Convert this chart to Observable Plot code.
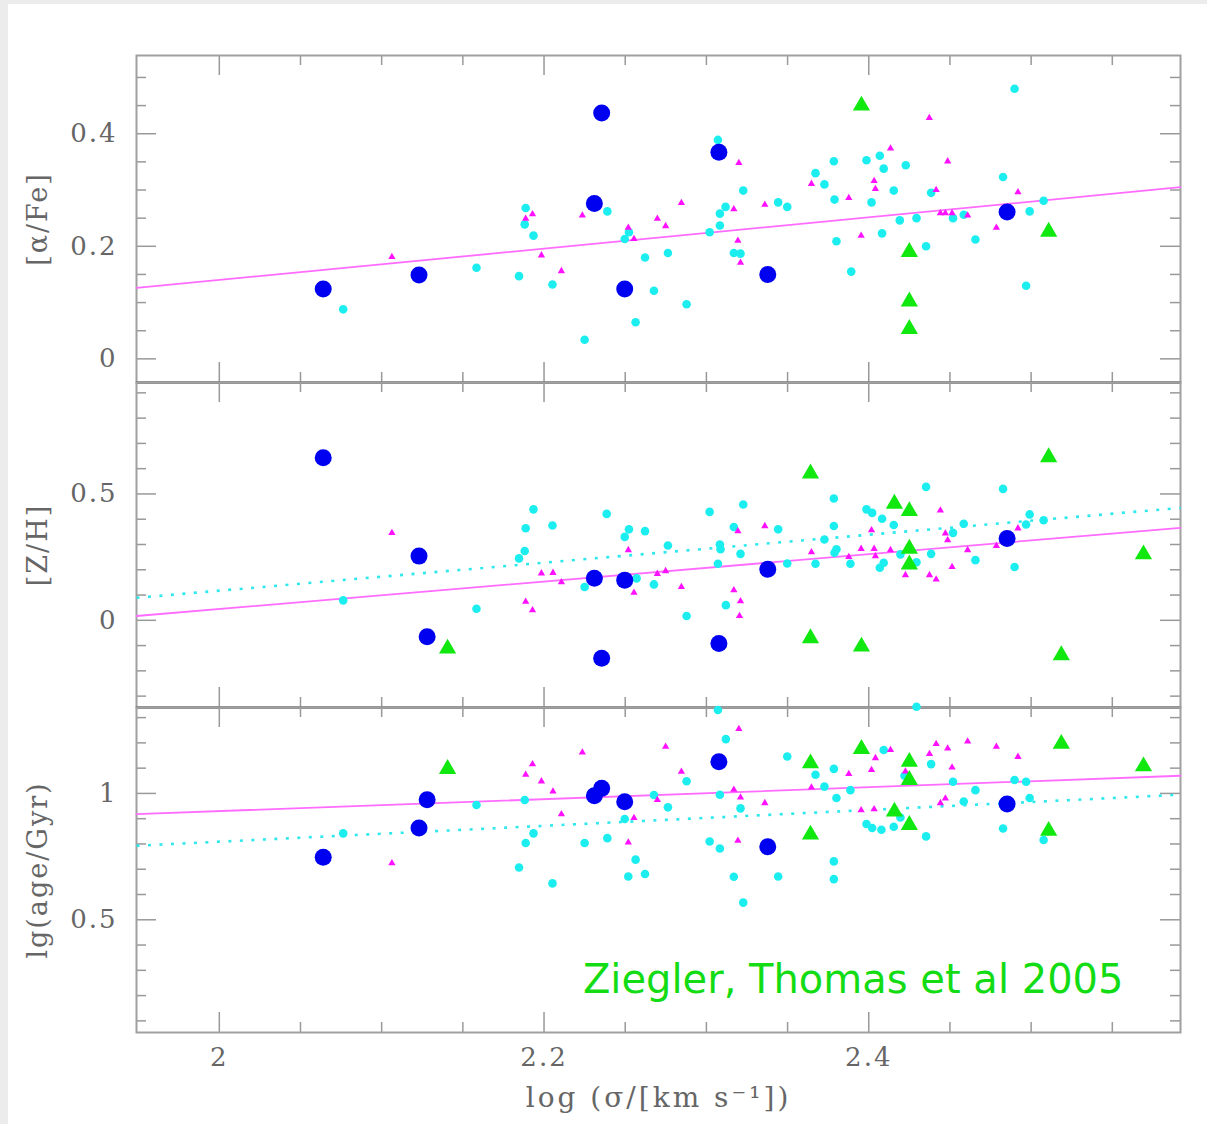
<!DOCTYPE html>
<html>
<head>
<meta charset="utf-8">
<script src="https://cdn.jsdelivr.net/npm/d3@7"></script>
<script src="https://cdn.jsdelivr.net/npm/@observablehq/plot@0.6"></script>
<style>
  html, body { margin: 0; padding: 0; background: #ececec; }
  #page { position: absolute; left: 8px; top: 4px; right: 0; height: 1120px; background: #fff; }
  #chart { position: absolute; left: 0; top: 0; width: 1207px; height: 1124px; }
  #chart svg { position: absolute; left: 0; overflow: visible; }
</style>
</head>
<body>
<div id="page"></div>
<div id="chart"></div>
<script>
// ---- shared x axis: log velocity dispersion ----
const xDomain = [1.949, 2.592];
const xTicks = [2, 2.2, 2.4];
const xMinor = [2.05, 2.1, 2.15, 2.25, 2.3, 2.35, 2.45, 2.5, 2.55];
const xTitle = "log (σ/[km s⁻¹])";
const credit = "Ziegler, Thomas et al 2005";

// ---- [alpha/Fe] panel ----
const alphaDomain = [-0.042, 0.539];
const alphaTicks = [0, 0.2, 0.4];
const alphaMinor = [0.05, 0.1, 0.15, 0.25, 0.3, 0.35, 0.45, 0.5];
const alphaCyan = [
  [2.1887,0.268],[2.1881,0.239],[2.1935,0.219],[2.1584,0.162],[2.1846,0.147],[2.0763,0.088],[2.2052,0.132],
  [2.2390,0.262],[2.2497,0.213],[2.2523,0.225],[2.2622,0.180],[2.2763,0.188],[2.2677,0.121],[2.2878,0.097],
  [2.2564,0.065],[2.2250,0.034],[2.3071,0.389],[2.3020,0.225],[2.3083,0.237],[2.3083,0.258],[2.3118,0.270],
  [2.3227,0.299],[2.3169,0.188],[2.3210,0.187],[2.3442,0.278],[2.3498,0.270],[2.3672,0.330],[2.3785,0.351],
  [2.3727,0.310],[2.3789,0.283],[2.3801,0.209],[2.3892,0.155],[2.3986,0.353],[2.4068,0.361],[2.4092,0.338],
  [2.4228,0.344],[2.4017,0.278],[2.4154,0.299],[2.4082,0.223],[2.4191,0.246],[2.4294,0.250],[2.4353,0.200],
  [2.4384,0.295],[2.4519,0.250],[2.4585,0.256],[2.4657,0.212],[2.4827,0.323],[2.4898,0.480],[2.4991,0.262],
  [2.5077,0.281],[2.4969,0.130]
];
const alphaMagenta = [
  [2.1063,0.181],[2.1887,0.249],[2.1929,0.257],[2.1984,0.184],[2.2107,0.156],[2.2236,0.255],[2.2519,0.233],
  [2.2554,0.213],[2.2698,0.249],[2.2749,0.236],[2.2846,0.277],[2.3200,0.348],[2.3169,0.266],[2.3194,0.210],
  [2.3210,0.171],[2.3360,0.274],[2.3647,0.311],[2.3877,0.286],[2.3953,0.219],[2.4033,0.316],[2.4041,0.302],
  [2.4134,0.374],[2.4373,0.428],[2.4415,0.300],[2.4486,0.351],[2.4441,0.259],[2.4472,0.259],[2.4513,0.259],
  [2.4609,0.255],[2.4786,0.233],[2.4919,0.296]
];
const alphaBlue = [
  [2.064,0.124],[2.123,0.149],[2.231,0.276],[2.2355,0.437],[2.2497,0.124],[2.3077,0.367],[2.3378,0.150],[2.4852,0.261]
];
const alphaGreen = [[2.3955,0.450],[2.425,0.190],[2.425,0.102],[2.425,0.053],[2.5108,0.226]];
const alphaFitMagenta = [[1.949,0.126],[2.592,0.305]];

// ---- [Z/H] panel ----
const zhDomain = [-0.345, 0.941];
const zhTicks = [0, 0.5];
const zhMinor = [-0.3, -0.2, -0.1, 0.1, 0.2, 0.3, 0.4, 0.6, 0.7, 0.8, 0.9];
const zhCyan = [
  [2.0763,0.079],[2.1584,0.046],[2.1846,0.245],[2.1881,0.274],[2.1887,0.364],[2.1935,0.439],[2.2052,0.375],
  [2.2250,0.132],[2.2386,0.421],[2.2497,0.330],[2.2523,0.360],[2.2570,0.166],[2.2622,0.353],[2.2677,0.142],
  [2.2763,0.296],[2.2878,0.017],[2.3020,0.429],[2.3083,0.300],[2.3087,0.281],[2.3071,0.224],[2.3169,0.369],
  [2.3227,0.458],[2.3210,0.263],[2.3120,0.060],[2.3442,0.360],[2.3498,0.225],[2.3672,0.224],[2.3785,0.482],
  [2.3785,0.373],[2.3727,0.320],[2.3801,0.281],[2.3789,0.267],[2.3887,0.224],[2.3986,0.439],[2.4021,0.425],
  [2.4082,0.402],[2.4154,0.377],[2.4068,0.208],[2.4092,0.228],[2.4195,0.261],[2.4294,0.230],[2.4353,0.528],
  [2.4384,0.263],[2.4519,0.346],[2.4585,0.382],[2.4657,0.238],[2.4827,0.520],[2.4898,0.211],[2.4969,0.379],
  [2.4991,0.419],[2.5077,0.396]
];
const zhMagenta = [
  [2.1063,0.346],[2.1887,0.074],[2.1929,0.040],[2.1984,0.186],[2.2055,0.188],[2.2107,0.151],[2.2519,0.278],
  [2.2554,0.109],[2.2698,0.184],[2.2749,0.195],[2.2846,0.132],[2.3169,0.119],[2.3210,0.076],[2.3204,0.017],
  [2.3194,0.353],[2.3360,0.373],[2.3647,0.270],[2.3877,0.251],[2.3953,0.283],[2.4017,0.357],[2.4033,0.283],
  [2.4041,0.254],[2.4134,0.278],[2.4226,0.179],[2.4374,0.179],[2.4415,0.162],[2.4441,0.435],[2.4472,0.344],
  [2.4486,0.317],[2.4513,0.211],[2.4609,0.278],[2.4786,0.294],[2.4919,0.364]
];
const zhBlue = [
  [2.064,0.643],[2.123,0.254],[2.128,-0.065],[2.231,0.166],[2.2497,0.159],[2.2355,-0.150],[2.3077,-0.092],
  [2.3378,0.202],[2.4852,0.324]
];
const zhGreen = [
  [2.1406,-0.112],[2.3641,0.581],[2.3641,-0.071],[2.3955,-0.104],[2.4158,0.461],[2.425,0.432],[2.425,0.283],
  [2.425,0.221],[2.5108,0.645],[2.5186,-0.138],[2.5692,0.261]
];
const zhFitMagenta = [[1.949,0.017],[2.592,0.366]];
const zhFitCyan = [[1.949,0.089],[2.592,0.445]];

// ---- lg(age) panel ----
const ageDomain = [0.054, 1.340];
const ageTicks = [0.5, 1];
const ageMinor = [0.1, 0.2, 0.3, 0.4, 0.6, 0.7, 0.8, 0.9, 1.1, 1.2, 1.3];
const ageCyan = [
  [2.0763,0.842],[2.1584,0.954],[2.1881,0.974],[2.1887,0.804],[2.1846,0.707],[2.1935,0.842],[2.2052,0.644],
  [2.2250,0.804],[2.2390,0.823],[2.2497,0.899],[2.2564,0.738],[2.2519,0.671],[2.2622,0.681],[2.2677,0.994],
  [2.2763,0.945],[2.2878,1.048],[2.3020,0.810],[2.3083,0.782],[2.3083,0.995],[2.3120,1.215],[2.3071,1.330],
  [2.3210,0.941],[2.3169,0.670],[2.3227,0.568],[2.3442,0.671],[2.3498,1.146],[2.3672,1.074],[2.3727,1.027],
  [2.3785,1.097],[2.3801,0.982],[2.3785,0.731],[2.3785,0.661],[2.3887,1.013],[2.3986,0.879],[2.4021,0.863],
  [2.4078,0.856],[2.4154,0.868],[2.4195,0.905],[2.4092,1.172],[2.4384,1.116],[2.4220,1.070],[2.4353,0.830],
  [2.4519,1.046],[2.4585,0.968],[2.4657,1.013],[2.4827,0.861],[2.4898,1.053],[2.4969,1.046],[2.4991,0.982],
  [2.5077,0.816],[2.4294,1.343]
];
const ageMagenta = [
  [2.1063,0.724],[2.1887,1.074],[2.1929,1.116],[2.1984,1.048],[2.2055,1.008],[2.2107,0.918],[2.2236,1.162],
  [2.2519,0.806],[2.2554,0.903],[2.2698,0.974],[2.2749,1.185],[2.2846,1.086],[2.3169,1.015],[2.3200,1.255],
  [2.3210,0.984],[2.3194,0.813],[2.3360,0.962],[2.3647,1.024],[2.3877,1.077],[2.3953,0.934],[2.4017,1.093],
  [2.4033,0.938],[2.4041,1.140],[2.4134,1.172],[2.4226,1.087],[2.4374,1.156],[2.4415,1.196],[2.4441,0.962],
  [2.4472,0.980],[2.4486,1.178],[2.4513,1.103],[2.4609,1.206],[2.4786,1.185],[2.4919,1.145]
];
const ageBlue = [
  [2.064,0.747],[2.128,0.975],[2.123,0.863],[2.231,0.991],[2.2355,1.020],[2.2497,0.967],[2.3077,1.125],
  [2.3378,0.789],[2.4852,0.958]
];
const ageGreen = [
  [2.1406,1.097],[2.3641,1.119],[2.3641,0.837],[2.3955,1.176],[2.425,1.125],[2.425,1.053],[2.4158,0.928],
  [2.425,0.875],[2.5108,0.852],[2.5186,1.196],[2.5692,1.107]
];
const ageFitMagenta = [[1.949,0.918],[2.592,1.070]];
const ageFitCyan = [[1.949,0.793],[2.592,0.995]];

// ---- drawing ----
const FRAME_W = 1044;
const MARGIN_L = 136, MARGIN_R = 27;
const TICK_MAJOR = 20, TICK_MINOR = 10;
const tickColor = "#999";
const fmt = d => String(d);
const px = d => d[0], py = d => d[1];

function panel({top, frameH, marginTop = 0, marginBottom = 0, yDomain, yTicks, yMinor, title,
                cyan, magenta, blue, green, fitMagenta, fitCyan, darkBottom = false, bottomAxis = false, extra = []}) {
  const marks = [
    // inward ticks on all four sides
    Plot.ruleX(xTicks, {insetTop: frameH - TICK_MAJOR, stroke: tickColor, strokeWidth: 1.5}),
    Plot.ruleX(xTicks, {insetBottom: frameH - TICK_MAJOR, stroke: tickColor, strokeWidth: 1.5}),
    Plot.ruleX(xMinor, {insetTop: frameH - TICK_MINOR, stroke: tickColor, strokeWidth: 1.5}),
    Plot.ruleX(xMinor, {insetBottom: frameH - TICK_MINOR, stroke: tickColor, strokeWidth: 1.5}),
    Plot.ruleY(yTicks, {insetRight: FRAME_W - TICK_MAJOR, stroke: tickColor, strokeWidth: 1.5}),
    Plot.ruleY(yTicks, {insetLeft: FRAME_W - TICK_MAJOR, stroke: tickColor, strokeWidth: 1.5}),
    Plot.ruleY(yMinor, {insetRight: FRAME_W - TICK_MINOR, stroke: tickColor, strokeWidth: 1.5}),
    Plot.ruleY(yMinor, {insetLeft: FRAME_W - TICK_MINOR, stroke: tickColor, strokeWidth: 1.5}),
    Plot.frame({stroke: "#a0a0a0", strokeWidth: 2}),
    darkBottom ? Plot.ruleY([yDomain[0]], {stroke: "#4a4a4a", strokeWidth: 2}) : null,
    Plot.axisY(yTicks, {anchor: "left", tickSize: 0, tickPadding: 19, tickFormat: fmt, label: null}),
    Plot.text([title], {text: d => d, frameAnchor: "left", rotate: -90, dx: -98,
                        textAnchor: "middle", lineAnchor: "middle", fontSize: 27}),
    // regression lines
    fitCyan ? Plot.line(fitCyan, {x: px, y: py, stroke: "#2ee8ee", strokeWidth: 2.6,
                                  strokeDasharray: "3,8.5", strokeLinecap: "butt"}) : null,
    Plot.line(fitMagenta, {x: px, y: py, stroke: "#ff6cff", strokeWidth: 1.8}),
    // samples
    Plot.dot(cyan, {x: px, y: py, r: 4.3, fill: "#1ceef0", stroke: null}),
    Plot.dot(magenta, {x: px, y: py, r: 2.7, symbol: "triangle", fill: "#ff10ff", stroke: null}),
    Plot.dot(blue, {x: px, y: py, r: 8.5, fill: "#0000f0", stroke: null}),
    Plot.dot(green, {x: px, y: py, r: 6.4, symbol: "triangle", fill: "#10e810", stroke: null}),
    ...extra
  ];
  if (bottomAxis) {
    marks.push(
      Plot.axisX(xTicks, {anchor: "bottom", tickSize: 0, tickPadding: 15, tickFormat: fmt, label: null}),
      Plot.text([xTitle], {text: d => d, frameAnchor: "bottom", dy: 66, lineAnchor: "middle", fontSize: 28})
    );
  }
  const svg = Plot.plot({
    width: 1207,
    height: frameH + marginTop + marginBottom,
    marginLeft: MARGIN_L, marginRight: MARGIN_R, marginTop, marginBottom,
    x: {domain: xDomain, axis: null},
    y: {domain: yDomain, axis: null},
    style: {background: "transparent", overflow: "visible", fontFamily: "DejaVu Serif",
            fontSize: "26px", color: "#666"},
    marks: marks.filter(Boolean)
  });
  // the serif labels are set with wide tracking; the credit line keeps normal spacing
  d3.select(svg).selectAll("text").each(function () {
    const t = this.textContent;
    if (t === credit) return;
    this.style.letterSpacing = t === xTitle ? "3px" : "2px";
  });
  svg.style.top = (top - marginTop) + "px";
  document.getElementById("chart").append(svg);
}

panel({top: 55, frameH: 327, marginTop: 55, yDomain: alphaDomain, yTicks: alphaTicks, yMinor: alphaMinor,
       title: "[α/Fe]", cyan: alphaCyan, magenta: alphaMagenta, blue: alphaBlue, green: alphaGreen,
       fitMagenta: alphaFitMagenta, darkBottom: true});

panel({top: 382, frameH: 325, yDomain: zhDomain, yTicks: zhTicks, yMinor: zhMinor,
       title: "[Z/H]", cyan: zhCyan, magenta: zhMagenta, blue: zhBlue, green: zhGreen,
       fitMagenta: zhFitMagenta, fitCyan: zhFitCyan, darkBottom: true});

panel({top: 707, frameH: 325, marginBottom: 92, yDomain: ageDomain, yTicks: ageTicks, yMinor: ageMinor,
       title: "lg(age/Gyr)", cyan: ageCyan, magenta: ageMagenta, blue: ageBlue, green: ageGreen,
       fitMagenta: ageFitMagenta, fitCyan: ageFitCyan, bottomAxis: true,
       extra: [Plot.text([credit], {text: d => d, frameAnchor: "bottom-right", textAnchor: "end",
                                    lineAnchor: "bottom", dx: -57, dy: -40, fontSize: 40,
                                    fontFamily: "DejaVu Sans", fill: "#14dc14"})]});
</script>
</body>
</html>
